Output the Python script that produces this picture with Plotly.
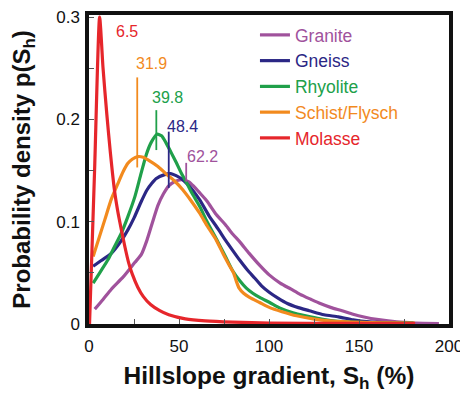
import plotly.graph_objects as go

# ---------------- data ----------------
granite_x = [3.2, 7.8, 12.4, 19, 25.4, 29.1, 32.2, 35.2, 38.3, 41.3, 44.3, 47.4, 51.4, 55.5, 58.5,
             61.6, 65.6, 70.7, 75.8, 79.8, 83.9, 89, 95, 100.1, 106.2, 112.3, 117.3, 123.4, 128.5,
             134.6, 140.6, 146.7, 152.8, 160.9, 171, 181.2, 194.4]
granite_y = [0.0145, 0.024, 0.034, 0.046, 0.060, 0.068, 0.082, 0.099, 0.116, 0.127, 0.135, 0.139,
             0.141, 0.139, 0.134, 0.128, 0.120, 0.107, 0.097, 0.088, 0.080, 0.069, 0.057, 0.048,
             0.040, 0.034, 0.029, 0.024, 0.020, 0.016, 0.013, 0.0095, 0.0068, 0.0042, 0.002, 0.001, 0.0005]

gneiss_x = [2.3, 6.8, 12.4, 17, 21.6, 25.1, 29.1, 32.2, 34.7, 37.2, 42, 45.4, 48.4, 51.4, 54.5,
            57.5, 61.6, 66.6, 71.7, 75.8, 79.8, 83.9, 87.9, 92, 96, 100.1, 105.2, 110.2, 116.3,
            122.4, 130.5, 138.6, 146.7, 155.8, 166, 180.2]
gneiss_y = [0.0565, 0.062, 0.069, 0.079, 0.092, 0.104, 0.120, 0.131, 0.137, 0.142, 0.146, 0.147,
            0.145, 0.142, 0.137, 0.131, 0.121, 0.106, 0.093, 0.082, 0.072, 0.062, 0.053, 0.045,
            0.037, 0.031, 0.025, 0.020, 0.016, 0.013, 0.009, 0.007, 0.004, 0.002, 0.0012, 0.0008]

rhyolite_x = [2.3, 6.3, 10.6, 14, 18, 21.6, 25.4, 28.6, 31.9, 34.7, 37.8, 40.3, 42.8, 45.8, 48.4,
              51.4, 54.5, 57.5, 61.6, 65.6, 71.7, 75.8, 79.8, 83.9, 87.4, 91, 94.8, 100.4, 106.2,
              113.3, 120.4, 128.5, 135.6, 150.8, 166, 180.2]
rhyolite_y = [0.040, 0.051, 0.063, 0.075, 0.089, 0.105, 0.124, 0.145, 0.166, 0.178, 0.1855, 0.184,
              0.177, 0.167, 0.158, 0.147, 0.137, 0.127, 0.1145, 0.100, 0.080, 0.066, 0.052, 0.042,
              0.035, 0.030, 0.026, 0.021, 0.0155, 0.011, 0.008, 0.005, 0.003, 0.0015, 0.001, 0.0008]

schist_x = [2.3, 8.8, 12.4, 16, 19, 21.6, 24, 27.1, 30.1, 33.2, 38.3, 43.3, 47.4, 52.2, 56.5, 61.6,
            65.6, 70.7, 74.7, 78.2, 80.3, 81.8, 83.4, 85.9, 89.2, 94.8, 100.4, 107.2, 115.3, 124.4,
            133.5, 150.8, 166, 181]
schist_y = [0.066, 0.102, 0.122, 0.137, 0.149, 0.157, 0.161, 0.1636, 0.163, 0.160, 0.154, 0.146,
            0.140, 0.131, 0.121, 0.108, 0.096, 0.082, 0.068, 0.0565, 0.050, 0.042, 0.035, 0.030,
            0.026, 0.021, 0.016, 0.012, 0.008, 0.005, 0.003, 0.0015, 0.0012, 0.001]

molasse_x = [0.3, 3.1, 5.9, 7.8, 9.9, 11.9, 14.2, 16, 18, 20, 22, 24, 27.1, 30.1, 34.2, 39.3, 44.3,
             53.5, 64.6, 79.8, 100.1, 140.6, 181.2]
molasse_y = [0.0, 0.15, 0.3, 0.25, 0.205, 0.167, 0.13, 0.11, 0.092, 0.075, 0.06, 0.049, 0.036,
             0.027, 0.019, 0.013, 0.009, 0.005, 0.003, 0.0018, 0.001, 0.0006, 0.0004]

series_names = ["Granite", "Gneiss", "Rhyolite", "Schist/Flysch", "Molasse"]
series_colors = ["#a0529c", "#2b2785", "#20a04a", "#f28a1e", "#e6262b"]

# marker lines at the mode of each curve, and their value labels
marker_x = [54.0, 44.3, 37.4, 26.8]
marker_y0 = [0.139, 0.133, 0.170, 0.153]
marker_y1 = [0.1575, 0.188, 0.209, 0.241]
label_text = ["62.2", "48.4", "39.8", "31.9", "6.5"]
label_x = [53.3, 42.2, 33.9, 25.0, 13.9]
label_y = [0.153, 0.183, 0.211, 0.244, 0.276]

x_ticks = [0, 50, 100, 150, 200]
y_ticks = [0, 0.1, 0.2, 0.3]
y_ticktext = ["0", "0.1", "0.2", "0.3"]

# ---------------- figure ----------------
FONT = "Liberation Sans, Arial, Helvetica, sans-serif"
fig = go.Figure()

curves = [(granite_x, granite_y), (gneiss_x, gneiss_y), (rhyolite_x, rhyolite_y),
          (schist_x, schist_y), (molasse_x, molasse_y)]
for (xs, ys), name, col in zip(curves, series_names, series_colors):
    fig.add_trace(go.Scatter(
        x=xs, y=ys, mode="lines", name=f'<span style="color:{col}">{name}</span>',
        line=dict(color=col, width=3.2, shape="spline", smoothing=0.6),
    ))

for i in range(len(marker_x)):
    fig.add_trace(go.Scatter(
        x=[marker_x[i], marker_x[i]], y=[marker_y0[i], marker_y1[i]], mode="lines",
        line=dict(color=series_colors[i], width=1.8), showlegend=False, hoverinfo="skip",
    ))

for i, t in enumerate(label_text):
    fig.add_annotation(
        x=label_x[i], y=label_y[i], xref="x", yref="y", text=t, showarrow=False,
        xanchor="left", yanchor="bottom", font=dict(family=FONT, size=16, color=series_colors[i]),
    )

# the page body has an 8px default margin, so the figure is 8px smaller each way
fig.update_layout(
    width=460, height=387,
    margin=dict(l=81, r=19, t=7, b=71),
    paper_bgcolor="white", plot_bgcolor="white",
    font=dict(family=FONT, color="#111111"),
    showlegend=True,
    legend=dict(
        x=0.461, y=0.9935, xanchor="left", yanchor="top",
        bgcolor="rgba(0,0,0,0)", font=dict(family=FONT, size=17.5),
        itemwidth=30, tracegroupgap=0,
    ),
    xaxis=dict(
        range=[0, 200], tickvals=x_ticks, ticks="inside", ticklen=5, tickwidth=1.2,
        tickcolor="#555555", showline=True, linewidth=3.5, linecolor="#111111", mirror=True,
        showgrid=False, zeroline=False, automargin=False, ticklabelstandoff=4,
        tickfont=dict(family=FONT, size=17, color="#111111"),
        minor=dict(dtick=25, ticks="inside", ticklen=5, tickwidth=1.2, tickcolor="#555555", showgrid=False),
        title=dict(text="<b>Hillslope gradient, S<sub>h</sub> (%)</b>",
                   font=dict(family=FONT, size=24.5, color="#111111"), standoff=13),
    ),
    yaxis=dict(
        range=[0, 0.302], tickvals=y_ticks, ticktext=y_ticktext, ticks="inside", ticklen=5,
        tickwidth=1.2, tickcolor="#555555", showline=True, linewidth=3.5, linecolor="#111111",
        mirror=True, showgrid=False, zeroline=False, automargin=False, ticklabelstandoff=2,
        tickfont=dict(family=FONT, size=17, color="#111111"),
        minor=dict(dtick=0.05, ticks="inside", ticklen=5, tickwidth=1.2, tickcolor="#555555", showgrid=False),
        title=dict(text="<b>Probability density p(S<sub>h</sub>)</b>",
                   font=dict(family=FONT, size=24, color="#111111"), standoff=20),
    ),
)

fig.write_html("out.html")
